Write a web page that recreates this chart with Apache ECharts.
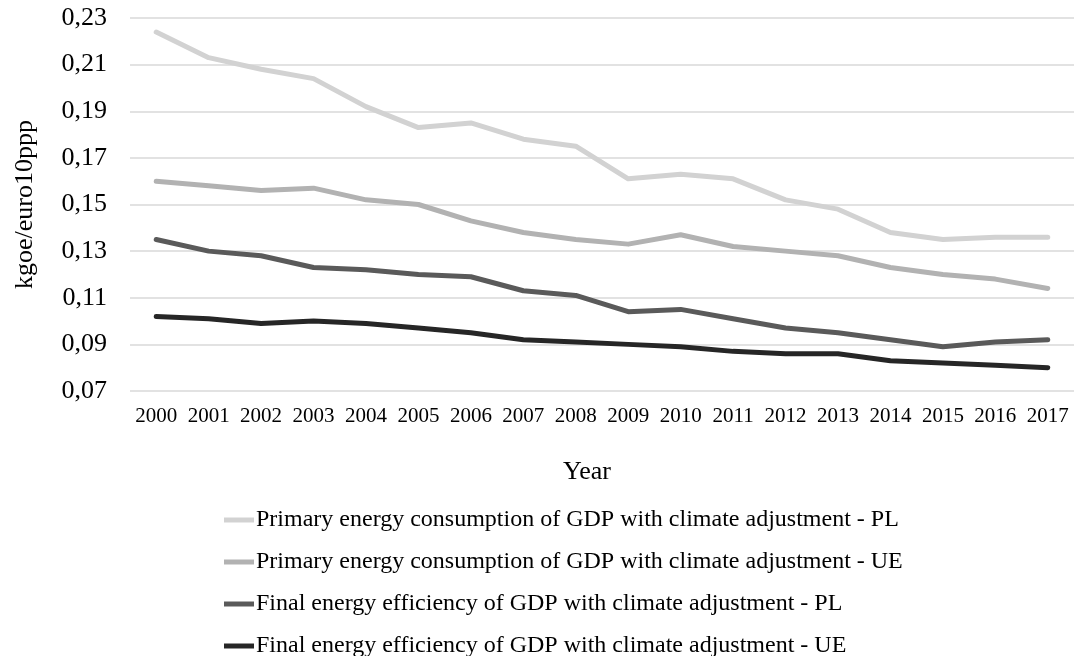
<!DOCTYPE html>
<html>
<head>
<meta charset="utf-8">
<style>
  html, body { margin: 0; padding: 0; background: #ffffff; }
  #chart { width: 1074px; height: 656px; }
</style>
<script src="https://cdn.jsdelivr.net/npm/echarts@6/dist/echarts.min.js"></script>
</head>
<body>
<div id="chart"></div>
<script>
// Years on the horizontal axis
const years = ['2000', '2001', '2002', '2003', '2004', '2005', '2006', '2007', '2008',
  '2009', '2010', '2011', '2012', '2013', '2014', '2015', '2016', '2017'];

// Series names (legend)
const namePrimaryPL = 'Primary energy consumption of GDP with climate adjustment - PL';
const namePrimaryUE = 'Primary energy consumption of GDP with climate adjustment - UE';
const nameFinalPL = 'Final energy efficiency of GDP with climate adjustment - PL';
const nameFinalUE = 'Final energy efficiency of GDP with climate adjustment - UE';

// Values in kgoe/euro10ppp
const primaryPL = [0.224, 0.213, 0.208, 0.204, 0.192, 0.183, 0.185, 0.178, 0.175,
  0.161, 0.163, 0.161, 0.152, 0.148, 0.138, 0.135, 0.136, 0.136];
const primaryUE = [0.160, 0.158, 0.156, 0.157, 0.152, 0.150, 0.143, 0.138, 0.135,
  0.133, 0.137, 0.132, 0.130, 0.128, 0.123, 0.120, 0.118, 0.114];
const finalPL = [0.135, 0.130, 0.128, 0.123, 0.122, 0.120, 0.119, 0.113, 0.111,
  0.104, 0.105, 0.101, 0.097, 0.095, 0.092, 0.089, 0.091, 0.092];
const finalUE = [0.102, 0.101, 0.099, 0.100, 0.099, 0.097, 0.095, 0.092, 0.091,
  0.090, 0.089, 0.087, 0.086, 0.086, 0.083, 0.082, 0.081, 0.080];

// Value-axis range
const yMin = 0.07;
const yMax = 0.23;
const yStep = 0.02;

const serif = '"Liberation Serif", "Times New Roman", serif';

function lineSeries(name, data, color) {
  return {
    name: name,
    type: 'line',
    data: data,
    showSymbol: false,
    symbol: 'none',
    smooth: false,
    itemStyle: { color: color },
    lineStyle: { color: color, width: 5, cap: 'round', join: 'round' },
    emphasis: { disabled: true }
  };
}

const chart = echarts.init(document.getElementById('chart'), null, { renderer: 'canvas' });

chart.setOption({
  animation: false,
  backgroundColor: '#ffffff',
  grid: { left: 130, right: -6, top: 18, bottom: 265, containLabel: false },
  xAxis: {
    type: 'category',
    data: years,
    boundaryGap: true,
    name: 'Year',
    nameLocation: 'middle',
    nameGap: 68,
    nameTextStyle: {
      fontFamily: serif, fontSize: 26, color: '#000000',
      padding: [0, 30, 0, 0], verticalAlign: 'top'
    },
    axisLine: { show: false },
    axisTick: { show: false },
    axisLabel: { interval: 0, fontFamily: serif, fontSize: 21, color: '#000000', margin: 15 },
    splitLine: { show: false }
  },
  yAxis: {
    type: 'value',
    min: yMin,
    max: yMax,
    interval: yStep,
    name: 'kgoe/euro10ppp',
    nameLocation: 'middle',
    nameRotate: 90,
    nameGap: 92,
    nameTextStyle: { fontFamily: serif, fontSize: 26, color: '#000000' },
    axisLine: { show: false },
    axisTick: { show: false },
    axisLabel: {
      fontFamily: serif, fontSize: 26, color: '#000000', margin: 23,
      formatter: function (v) { return v.toFixed(2).replace('.', ','); }
    },
    splitLine: { show: true, lineStyle: { color: '#d9d9d9', width: 1.5 } }
  },
  legend: {
    orient: 'vertical',
    left: 219,
    top: 503,
    height: 170,
    itemGap: 18,
    itemWidth: 30,
    itemHeight: 5,
    icon: 'rect',
    selectedMode: false,
    textStyle: { fontFamily: serif, fontSize: 24, color: '#000000', lineHeight: 24, padding: [0, 0, 0, -3] },
    data: [namePrimaryPL, namePrimaryUE, nameFinalPL, nameFinalUE]
  },
  series: [
    lineSeries(namePrimaryPL, primaryPL, '#d2d2d2'),
    lineSeries(namePrimaryUE, primaryUE, '#b2b2b2'),
    lineSeries(nameFinalPL, finalPL, '#5a5a5a'),
    lineSeries(nameFinalUE, finalUE, '#262626')
  ]
});
</script>
</body>
</html>
